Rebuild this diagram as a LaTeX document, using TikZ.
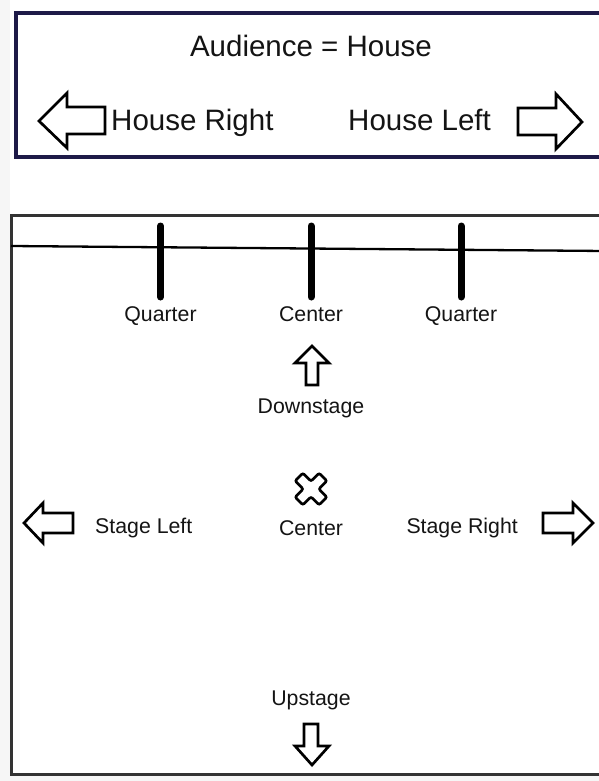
\documentclass[tikz,border=0pt]{standalone}
\usepackage{fontspec}
\setmainfont{Liberation Sans}
\definecolor{navy}{HTML}{1E1A48}
\definecolor{edge}{HTML}{333333}
\definecolor{ink}{HTML}{141414}
\begin{document}
\begin{tikzpicture}[x=1pt, y=-1pt,
  big/.style={inner sep=0pt, text=ink, font=\fontsize{29.5}{32}\selectfont},
  small/.style={inner sep=0pt, text=ink, font=\fontsize{21.3}{24}\selectfont},
  blockarrow/.style={draw=black, line width=2.7pt, line join=miter, fill=white},
  tick/.style={line width=7pt, line cap=round}]
\useasboundingbox (0,0) rectangle (599,781);
\clip (0,0) rectangle (599,781);
\fill[white] (0,0) rectangle (599,781);
\fill[gray!7] (0,0) rectangle (10,781);
\fill[gray!7] (0,775) rectangle (599,781);
\draw[navy, line width=3.5pt, fill=white] (16,13) rectangle (610,157);
\draw[edge, line width=3pt, fill=white] (11,215) rectangle (610,774);
\node[big, anchor=base] (audience) at (311,57) {Audience = House};
\node[big, anchor=base west] (hright) at (111,130) {House Right};
\node[big, anchor=base west] (hleft) at (348,130) {House Left};
\draw[blockarrow] (39,121)--(67,93)--(67,107)--(105,107)--(105,134)--(67,134)--(67,148)--cycle;
\draw[blockarrow] (582,122)--(556,94)--(556,108)--(518,108)--(518,135)--(556,135)--(556,149)--cycle;
\draw[line width=2.3pt] (11,246)--(605,251);
\foreach \x in {160.5,311,461}
  \draw[tick] (\x,226)--(\x,297);
\node[small, anchor=base] (qleft) at (160.5,321) {Quarter};
\node[small, anchor=base] (ctop) at (311,321) {Center};
\node[small, anchor=base] (qright) at (461,321) {Quarter};
\draw[blockarrow] (312,346)--(329,363)--(318,363)--(318,385)--(306,385)--(306,363)--(295,363)--cycle;
\node[small, anchor=base] (downstage) at (311,413) {Downstage};
\begin{scope}[shift={(311,489)}, rotate=45]
\draw[blockarrow, line width=2.7pt, rounded corners=2pt]
  (5.5,17)--(5.5,5.5)--(17,5.5)--(17,-5.5)--(5.5,-5.5)--(5.5,-17)--(-5.5,-17)
  --(-5.5,-5.5)--(-17,-5.5)--(-17,5.5)--(-5.5,5.5)--(-5.5,17)--cycle;
\end{scope}
\node[small, anchor=base] (center) at (311,535) {Center};
\node[small, anchor=base west] (sleft) at (95,533) {Stage Left};
\node[small, anchor=base east] (sright) at (518,533) {Stage Right};
\draw[blockarrow] (24,523)--(43,503)--(43,513)--(73,513)--(73,533)--(43,533)--(43,543)--cycle;
\draw[blockarrow] (593,523)--(573,503)--(573,513)--(543,513)--(543,533)--(573,533)--(573,543)--cycle;
\node[small, anchor=base] (upstage) at (311,705) {Upstage};
\draw[blockarrow] (312,765)--(329,746)--(318,746)--(318,724)--(304,724)--(304,746)--(295,746)--cycle;
\end{tikzpicture}
\end{document}
